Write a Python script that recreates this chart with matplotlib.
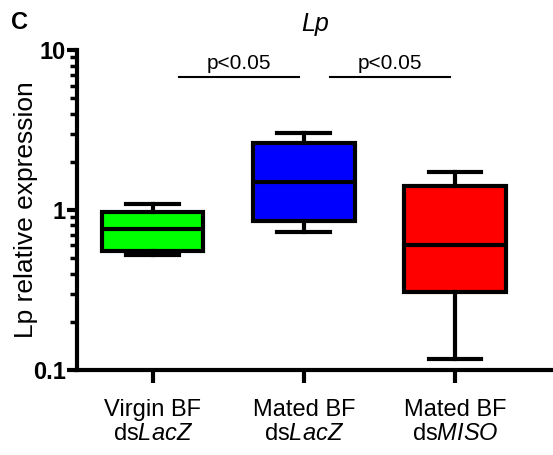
import matplotlib
matplotlib.use("Agg")
import matplotlib.pyplot as plt
from matplotlib.ticker import LogLocator, NullFormatter, FixedLocator, FixedFormatter

plt.rcParams['font.family'] = ['Liberation Sans', 'DejaVu Sans']
plt.rcParams['mathtext.fontset'] = 'custom'
plt.rcParams['mathtext.rm'] = 'Liberation Sans'
plt.rcParams['mathtext.it'] = 'Liberation Sans:italic'

# --- data ---
groups = ["Virgin BF\nds$\\it{LacZ}$", "Mated BF\nds$\\it{LacZ}$", "Mated BF\nds$\\it{MISO}$"]
whisker_lo = [0.52, 0.73, 0.117]
q1 = [0.555, 0.85, 0.307]
median = [0.76, 1.50, 0.60]
q3 = [0.97, 2.62, 1.41]
whisker_hi = [1.09, 3.03, 1.73]
colors = ["#00ff00", "#0000ff", "#ff0000"]
sig_pairs = [(0, 1), (1, 2)]
sig_text = ["p<0.05", "p<0.05"]

fig = plt.figure(figsize=(5.53, 4.55), dpi=100)
ax = fig.add_axes([0.139, 0.187, 0.861, 0.703])

stats = []
for i in range(len(groups)):
    stats.append(dict(whislo=whisker_lo[i], q1=q1[i], med=median[i],
                      q3=q3[i], whishi=whisker_hi[i], fliers=[]))

lw = 3.0
bp = ax.bxp(stats, positions=range(len(groups)), widths=0.67, patch_artist=True,
            showfliers=False,
            boxprops=dict(linewidth=lw, edgecolor="black"),
            medianprops=dict(linewidth=lw, color="black"),
            whiskerprops=dict(linewidth=lw, color="black"),
            capprops=dict(linewidth=lw, color="black"), capwidths=0.35)
for patch, c in zip(bp["boxes"], colors):
    patch.set_facecolor(c)

ax.set_yscale("log")
ax.set_ylim(0.1, 10)
ax.set_xlim(-0.503, 2.649)

ax.yaxis.set_major_locator(FixedLocator([0.1, 1, 10]))
ax.yaxis.set_major_formatter(FixedFormatter(["0.1", "1", "10"]))
ax.yaxis.set_minor_locator(LogLocator(base=10, subs=range(2, 10)))
ax.yaxis.set_minor_formatter(NullFormatter())
for lab in ax.get_yticklabels():
    lab.set_fontweight("bold")
ax.tick_params(axis="y", which="major", length=7, width=3, labelsize=17, pad=1)
ax.tick_params(axis="y", which="minor", length=5, width=2.5)
ax.set_xticks(range(len(groups)))
ax.set_xticklabels(groups, fontsize=17, linespacing=1.1)
ax.tick_params(axis="x", length=9, width=3, pad=12)

for s in ["top", "right"]:
    ax.spines[s].set_visible(False)
for s in ["left", "bottom"]:
    ax.spines[s].set_linewidth(3)

ax.set_ylabel("Lp relative expression", fontsize=19)
ax.yaxis.set_label_coords(-0.082, 0.5)
ax.set_title("Lp", fontsize=18, style="italic", pad=14)
fig.text(0.02, 0.975, "C", fontsize=17, fontweight="bold", va="top")

for (a, b), t in zip(sig_pairs, sig_text):
    ax.plot([a + 0.17, b - 0.03], [6.8, 6.8], color="black", lw=1.5, clip_on=False)
    ax.text((a + b) / 2 + 0.07, 7.2, t, ha="center", va="bottom", fontsize=15)

fig.savefig("out.png", dpi=100, facecolor="white")
